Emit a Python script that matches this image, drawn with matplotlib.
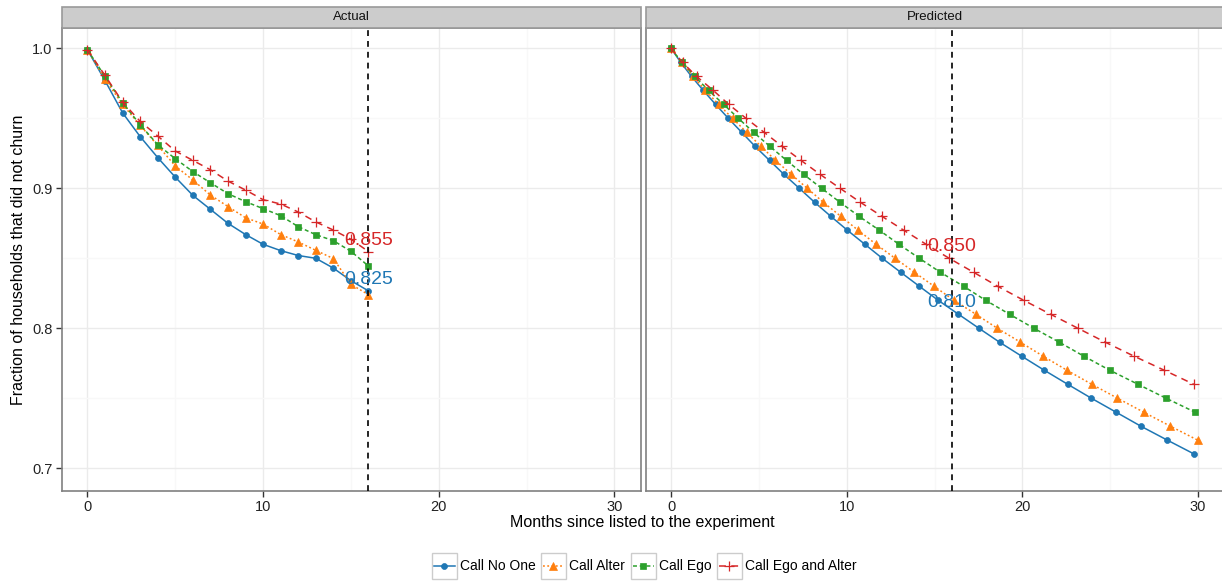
import matplotlib
matplotlib.use("Agg")
import matplotlib.pyplot as plt
from matplotlib.lines import Line2D
from matplotlib.patches import Rectangle
import numpy as np

plt.rcParams['font.family'] = ['Liberation Sans', 'DejaVu Sans']

# ---------------- data ----------------
series_names = ["Call No One", "Call Alter", "Call Ego", "Call Ego and Alter"]
colors = ["#1f77b4", "#ff7f0e", "#2ca02c", "#d62728"]

# Actual panel: months 0..16
actual_months = list(range(17))
actual_no_one = [0.999, 0.977, 0.954, 0.937, 0.922, 0.908, 0.895, 0.885, 0.875, 0.867,
                 0.860, 0.8555, 0.852, 0.850, 0.843, 0.834, 0.8267]
actual_alter = [0.999, 0.978, 0.960, 0.945, 0.9307, 0.916, 0.906, 0.8952, 0.887, 0.879,
                0.8745, 0.867, 0.8617, 0.8557, 0.8498, 0.8314, 0.824]
actual_ego = [0.999, 0.980, 0.9612, 0.9455, 0.9312, 0.9212, 0.912, 0.904, 0.8962, 0.8905,
              0.8855, 0.8805, 0.8726, 0.8669, 0.8626, 0.855, 0.8445]
actual_ego_alter = [0.999, 0.9807, 0.9617, 0.9479, 0.9374, 0.9267, 0.920, 0.9133, 0.9052, 0.8988,
                    0.8919, 0.8888, 0.8831, 0.876, 0.8702, 0.8636, 0.8548]

# Predicted panel: months at which each curve reaches successive values
pred_no_one_m = [0.0, 0.55, 1.16, 1.83, 2.53, 3.26, 4.02, 4.78, 5.6, 6.42, 7.3, 8.17, 9.09, 10.04,
                 11.03, 12.02, 13.07, 14.13, 15.2, 16.36, 17.52, 18.7, 19.96, 21.24, 22.57,
                 23.92, 25.33, 26.74, 28.25, 29.79]
pred_no_one_v = [1.00, 0.99, 0.98, 0.97, 0.96, 0.95, 0.94, 0.93, 0.92, 0.91, 0.90, 0.89, 0.88, 0.87,
                 0.86, 0.85, 0.84, 0.83, 0.82, 0.81, 0.80, 0.79, 0.78, 0.77, 0.76, 0.75, 0.74,
                 0.73, 0.72, 0.71]
pred_alter_m = [0.0, 0.6, 1.25, 1.95, 2.7, 3.5, 4.30, 5.12, 5.94, 6.84, 7.75, 8.67, 9.66, 10.65,
                11.67, 12.75, 13.85, 14.97, 16.1, 17.35, 18.57, 19.89, 21.18, 22.53, 23.94,
                25.41, 26.9, 28.42, 29.98]
pred_alter_v = [1.00, 0.99, 0.98, 0.97, 0.96, 0.95, 0.94, 0.93, 0.92, 0.91, 0.90, 0.89, 0.88, 0.87,
                0.86, 0.85, 0.84, 0.83, 0.82, 0.81, 0.80, 0.79, 0.78, 0.77, 0.76, 0.75, 0.74,
                0.73, 0.72]
pred_ego_m = [0.0, 0.6, 1.35, 2.13, 2.99, 3.83, 4.70, 5.62, 6.57, 7.54, 8.57, 9.62, 10.7, 11.86,
              12.97, 14.13, 15.33, 16.65, 17.9, 19.27, 20.65, 22.1, 23.5, 24.97, 26.57, 28.17, 29.83]
pred_ego_v = [1.00, 0.99, 0.98, 0.97, 0.96, 0.95, 0.94, 0.93, 0.92, 0.91, 0.90, 0.89, 0.88, 0.87,
              0.86, 0.85, 0.84, 0.83, 0.82, 0.81, 0.80, 0.79, 0.78, 0.77, 0.76, 0.75, 0.74]
pred_ego_alter_m = [0.0, 0.65, 1.45, 2.4, 3.28, 4.27, 5.3, 6.32, 7.39, 8.48, 9.62, 10.78, 12.0,
                    13.25, 14.52, 15.83, 17.22, 18.59, 20.07, 21.6, 23.16, 24.72, 26.36, 28.07, 29.75]
pred_ego_alter_v = [1.00, 0.99, 0.98, 0.97, 0.96, 0.95, 0.94, 0.93, 0.92, 0.91, 0.90, 0.89, 0.88,
                    0.87, 0.86, 0.85, 0.84, 0.83, 0.82, 0.81, 0.80, 0.79, 0.78, 0.77, 0.76]

cutoff_month = 16
actual_labels = [("0.855", 0.8548, 3), ("0.825", 0.8267, 0)]
pred_labels = [("0.850", 0.850, 3), ("0.810", 0.810, 0)]

panel_titles = ["Actual", "Predicted"]
x_ticks = [0, 10, 20, 30]
y_ticks = [0.7, 0.8, 0.9, 1.0]
x_label = "Months since listed to the experiment"
y_label = "Fraction of households that did not churn"

# ---------------- styles ----------------
markers = ["o", "^", "s", "+"]
msizes = [4.3, 5.6, 5.0, 7.0]
mews = [0.5, 0.5, 0.5, 0.9]
lstyles = ["-", (0, (1.2, 1.6)), (0, (2.6, 1.8)), (0, (4.5, 3.5))]

W, H = 1222, 583
fig = plt.figure(figsize=(W / 100, H / 100), dpi=100)

def px_axes(x0, y0, x1, y1):
    return fig.add_axes([x0 / W, 1 - y1 / H, (x1 - x0) / W, (y1 - y0) / H])

panel_px = [(62, 640.7), (645.7, 1224.4)]
panels = [px_axes(x0, 27.5, x1, 490.5) for x0, x1 in panel_px]

actual_data = [(actual_months, actual_no_one), (actual_months, actual_alter),
               (actual_months, actual_ego), (actual_months, actual_ego_alter)]
pred_data = [(pred_no_one_m, pred_no_one_v), (pred_alter_m, pred_alter_v),
             (pred_ego_m, pred_ego_v), (pred_ego_alter_m, pred_ego_alter_v)]

for ax, data, labels in zip(panels, [actual_data, pred_data], [actual_labels, pred_labels]):
    ax.set_xlim(-1.45, 31.5)
    ax.set_ylim(0.684, 1.015)
    ax.set_xticks(x_ticks)
    ax.set_yticks(y_ticks)
    ax.set_xticks([5, 15, 25], minor=True)
    ax.set_yticks([0.75, 0.85, 0.95], minor=True)
    ax.grid(True, which="major", color="#ebebeb", lw=1.0, zorder=0)
    ax.grid(True, which="minor", color="#f8f8f8", lw=1.0, zorder=0)
    ax.tick_params(which="minor", length=0)
    ax.tick_params(which="major", length=4, width=1, color="#333333",
                   labelsize=10.5, labelcolor="#222222", pad=3)
    for s in ax.spines.values():
        s.set_color("#808080")
        s.set_linewidth(1.2)
    ax.set_axisbelow(True)
    for i, (xs, ys) in enumerate(data):
        ax.plot(xs, ys, color=colors[i], ls=lstyles[i], lw=1.1, marker=markers[i],
                ms=msizes[i], mew=mews[i], mec=colors[i], zorder=3 + i * 0.1)
    ax.axvline(cutoff_month, color="black", ls=(0, (3.5, 3)), lw=1.2, zorder=5)
    for txt, yv, ci in labels:
        ax.annotate(txt, (cutoff_month, yv), xytext=(0, 5), textcoords="offset points",
                    ha="center", va="baseline", fontsize=14, color=colors[ci], zorder=6)

panels[1].tick_params(labelleft=False)
panels[1].tick_params(axis="y", length=0)

# strips
for (x0, x1), title in zip(panel_px, panel_titles):
    fig.patches.append(Rectangle((x0 / W, 1 - 27.5 / H), (x1 - x0) / W, 20.5 / H,
                                 transform=fig.transFigure, facecolor="#cccccc",
                                 edgecolor="#999999", lw=1.2, zorder=1))
    fig.text(((x0 + x1) / 2) / W, 1 - 17.5 / H, title, ha="center", va="center",
             fontsize=9.5, color="#111111")

fig.text(642 / W, 1 - 522 / H, x_label, ha="center", va="center", fontsize=11.5)
fig.text(19 / W, 1 - 260 / H, y_label, ha="center", va="center", rotation=90, fontsize=11.5)

# legend drawn manually (boxed keys)
box_x = [431.7, 540.7, 630.7, 716.7]
for i, name in enumerate(series_names):
    bx = box_x[i]
    fig.patches.append(Rectangle((bx / W, 1 - 579 / H), 25 / W, 26 / H,
                                 transform=fig.transFigure, facecolor="white",
                                 edgecolor="#cccccc", lw=1.0))
    fig.lines.append(Line2D([(bx + 2) / W, (bx + 23) / W], [1 - 566 / H, 1 - 566 / H],
                            transform=fig.transFigure, color=colors[i], ls=lstyles[i], lw=1.1))
    fig.lines.append(Line2D([(bx + 12.5) / W], [1 - 566 / H], transform=fig.transFigure,
                            color=colors[i], marker=markers[i], ms=msizes[i], mew=mews[i],
                            ls="none"))
    fig.text((bx + 28) / W, 1 - 566 / H, name, ha="left", va="center", fontsize=10)

fig.savefig("out.png", dpi=100)
